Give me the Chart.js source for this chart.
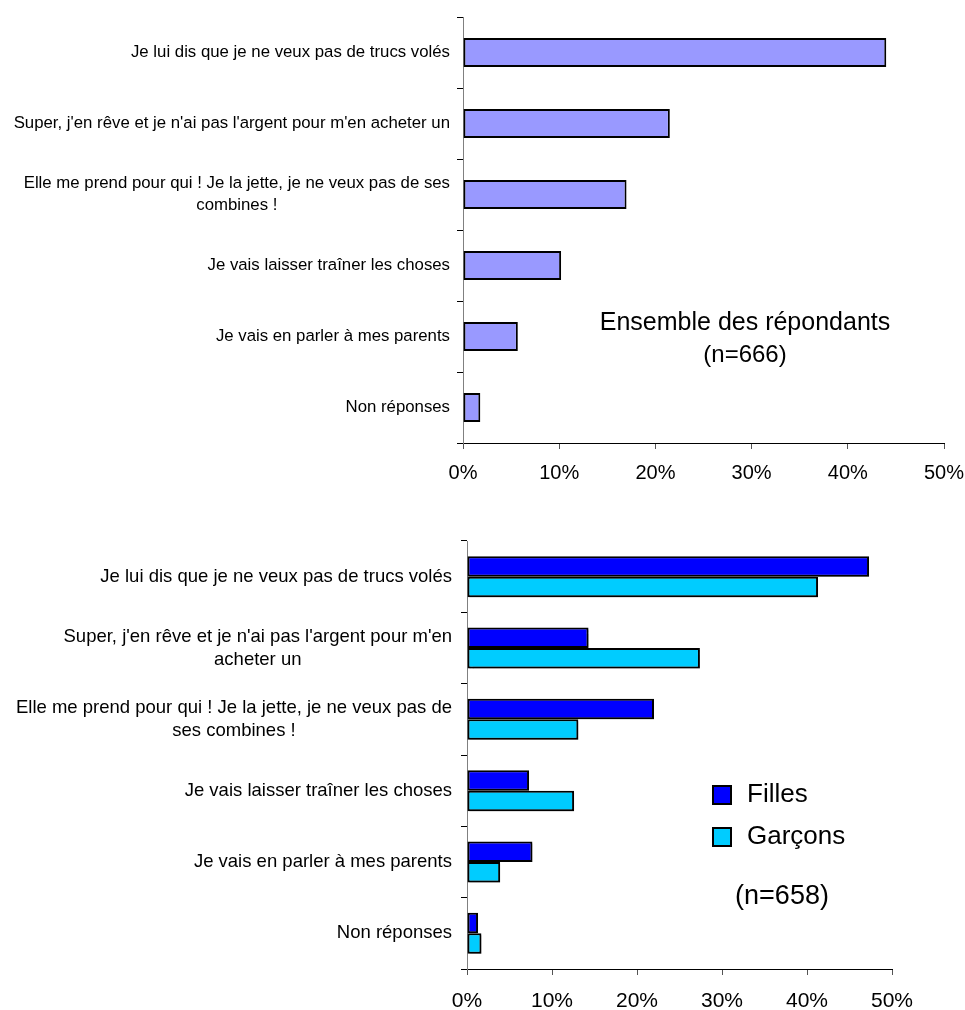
<!DOCTYPE html>
<html>
<head>
<meta charset="utf-8">
<script src="https://cdn.jsdelivr.net/npm/chart.js@4.4.1/dist/chart.umd.min.js"></script>
<style>
html, body { margin: 0; padding: 0; background: #fff; overflow: hidden; }
#wrap { position: relative; width: 965px; height: 1010px; overflow: hidden; }
.box { position: absolute; left: 0; width: 1000px; }
</style>
</head>
<body>
<div id="wrap">
  <div class="box" style="top:0;height:500px"><canvas id="topChart"></canvas></div>
  <div class="box" style="top:500px;height:510px"><canvas id="bottomChart"></canvas></div>
</div>
<script>
// Category labels (already split into lines, as in the original)
const topCategories = [
    ['Je lui dis que je ne veux pas de trucs volés'],
    ["Super, j'en rêve et je n'ai pas l'argent pour m'en acheter un"],
    ['Elle me prend pour qui ! Je la jette, je ne veux pas de ses', 'combines !'],
    ['Je vais laisser traîner les choses'],
    ['Je vais en parler à mes parents'],
    ['Non réponses']
];
const bottomCategories = [
    ['Je lui dis que je ne veux pas de trucs volés'],
    ["Super, j'en rêve et je n'ai pas l'argent pour m'en", 'acheter un'],
    ['Elle me prend pour qui ! Je la jette, je ne veux pas de', 'ses combines !'],
    ['Je vais laisser traîner les choses'],
    ['Je vais en parler à mes parents'],
    ['Non réponses']
];

// Values in %
const ensembleValues = [44.0, 21.5, 17.0, 10.2, 5.7, 1.8];
const fillesValues = [47.3, 14.3, 22.0, 7.3, 7.7, 1.3];
const garconsValues = [41.3, 27.4, 13.1, 12.6, 3.9, 1.7];

const seriesNames = ['Filles', 'Garçons'];
const xTicks = [0, 10, 20, 30, 40, 50];

const FONT = '"Liberation Sans", Arial, sans-serif';

// Draw category labels: block right-aligned to the axis, lines centred in the block
const categoryLabels = {
    id: 'categoryLabels',
    afterDraw(chart, args, opts) {
        const ctx = chart.ctx;
        const yScale = chart.scales.y;
        const right = chart.chartArea.left - opts.gap;
        ctx.save();
        ctx.font = opts.size + 'px ' + FONT;
        ctx.fillStyle = '#000';
        ctx.textBaseline = 'middle';
        ctx.textAlign = 'center';
        chart.data.labels.forEach((lines, i) => {
            const w = Math.max(...lines.map(l => ctx.measureText(l).width));
            const cx = right - w / 2;
            const cy = yScale.getPixelForValue(i);
            const y0 = cy - (lines.length - 1) * opts.lineHeight / 2;
            lines.forEach((l, j) => ctx.fillText(l, cx, y0 + j * opts.lineHeight));
        });
        ctx.restore();
    }
};

// Free text notes + optional legend
const notes = {
    id: 'notes',
    afterDraw(chart, args, opts) {
        const ctx = chart.ctx;
        ctx.save();
        ctx.fillStyle = '#000';
        ctx.textBaseline = 'middle';
        (opts.texts || []).forEach(t => {
            ctx.font = t.size + 'px ' + FONT;
            ctx.textAlign = t.align || 'center';
            ctx.fillText(t.text, t.x, t.y);
        });
        if (opts.legend) {
            const lg = opts.legend;
            chart.data.datasets.forEach((ds, i) => {
                const y = lg.y + i * lg.step;
                ctx.fillStyle = ds.backgroundColor;
                ctx.fillRect(lg.x, y - lg.box / 2, lg.box, lg.box);
                ctx.lineWidth = 2;
                ctx.strokeStyle = '#000';
                ctx.strokeRect(lg.x, y - lg.box / 2, lg.box, lg.box);
                ctx.fillStyle = '#000';
                ctx.font = lg.size + 'px ' + FONT;
                ctx.textAlign = 'left';
                ctx.fillText(ds.label, lg.x + lg.box + 16, y);
            });
        }
        ctx.restore();
    }
};

// Light drop shadow under the bars
const barShadow = {
    id: 'barShadow',
    beforeDatasetsDraw(chart, args, opts) {
        if (!opts.on) return;
        const ctx = chart.ctx;
        ctx.save();
        ctx.shadowColor = 'rgba(0,0,0,0.3)';
        ctx.shadowOffsetX = 2;
        ctx.shadowOffsetY = 2;
        ctx.shadowBlur = 1;
    },
    afterDatasetsDraw(chart, args, opts) {
        if (!opts.on) return;
        chart.ctx.restore();
    }
};

function makeOptions(cfg) {
    return {
        indexAxis: 'y',
        responsive: true,
        maintainAspectRatio: false,
        animation: false,
        layout: { padding: cfg.padding },
        plugins: {
            legend: { display: false },
            tooltip: { enabled: false },
            categoryLabels: cfg.labels,
            notes: cfg.notes,
            barShadow: { on: cfg.shadow }
        },
        scales: {
            x: {
                min: 0,
                max: 50,
                afterBuildTicks: s => { s.ticks = xTicks.map(v => ({ value: v })); },
                afterFit: s => { s.height = cfg.xHeight; },
                grid: { drawOnChartArea: false, color: '#555', tickLength: 6 },
                border: { color: '#000', width: 1 },
                ticks: {
                    color: '#000',
                    font: { family: FONT, size: cfg.tickSize },
                    padding: cfg.tickPad,
                    maxRotation: 0,
                    callback: v => v + '%'
                }
            },
            y: {
                afterFit: s => { s.width = cfg.yWidth; },
                grid: { drawOnChartArea: false, color: '#000', tickLength: 6 },
                border: { color: '#808080', width: 1 },
                ticks: { display: false }
            }
        }
    };
}

new Chart(document.getElementById('topChart'), {
    type: 'bar',
    data: {
        labels: topCategories,
        datasets: [{
            label: 'Ensemble des répondants',
            data: ensembleValues,
            backgroundColor: '#9999FF',
            borderColor: '#000',
            borderWidth: 2,
            borderSkipped: false,
            categoryPercentage: 1,
            barPercentage: 0.41
        }]
    },
    options: makeOptions({
        padding: { top: 17, right: 56, left: 0, bottom: 0 },
        xHeight: 57,
        yWidth: 463,
        tickSize: 20,
        tickPad: 12,
        shadow: false,
        labels: { gap: 13, size: 16.8, lineHeight: 22 },
        notes: {
            texts: [
                { text: 'Ensemble des répondants', x: 745, y: 323, size: 25 },
                { text: '(n=666)', x: 745, y: 355, size: 24 }
            ]
        }
    }),
    plugins: [categoryLabels, notes, barShadow]
});

new Chart(document.getElementById('bottomChart'), {
    type: 'bar',
    data: {
        labels: bottomCategories,
        datasets: [
            {
                label: seriesNames[0],
                data: fillesValues,
                backgroundColor: '#0000FF',
                borderColor: '#000',
                borderWidth: 2,
                borderSkipped: false,
                categoryPercentage: 0.575,
                barPercentage: 1
            },
            {
                label: seriesNames[1],
                data: garconsValues,
                backgroundColor: '#00CCFF',
                borderColor: '#000',
                borderWidth: 2,
                borderSkipped: false,
                categoryPercentage: 0.575,
                barPercentage: 1
            }
        ]
    },
    options: makeOptions({
        padding: { top: 41, right: 108, left: 0, bottom: 0 },
        xHeight: 41,
        yWidth: 467,
        tickSize: 21,
        tickPad: 14,
        shadow: true,
        labels: { gap: 15, size: 18.5, lineHeight: 23 },
        notes: {
            texts: [
                { text: '(n=658)', x: 782, y: 397, size: 27 }
            ],
            legend: { x: 713, y: 295, step: 42, box: 18, size: 26 }
        }
    }),
    plugins: [categoryLabels, notes, barShadow]
});
</script>
</body>
</html>
